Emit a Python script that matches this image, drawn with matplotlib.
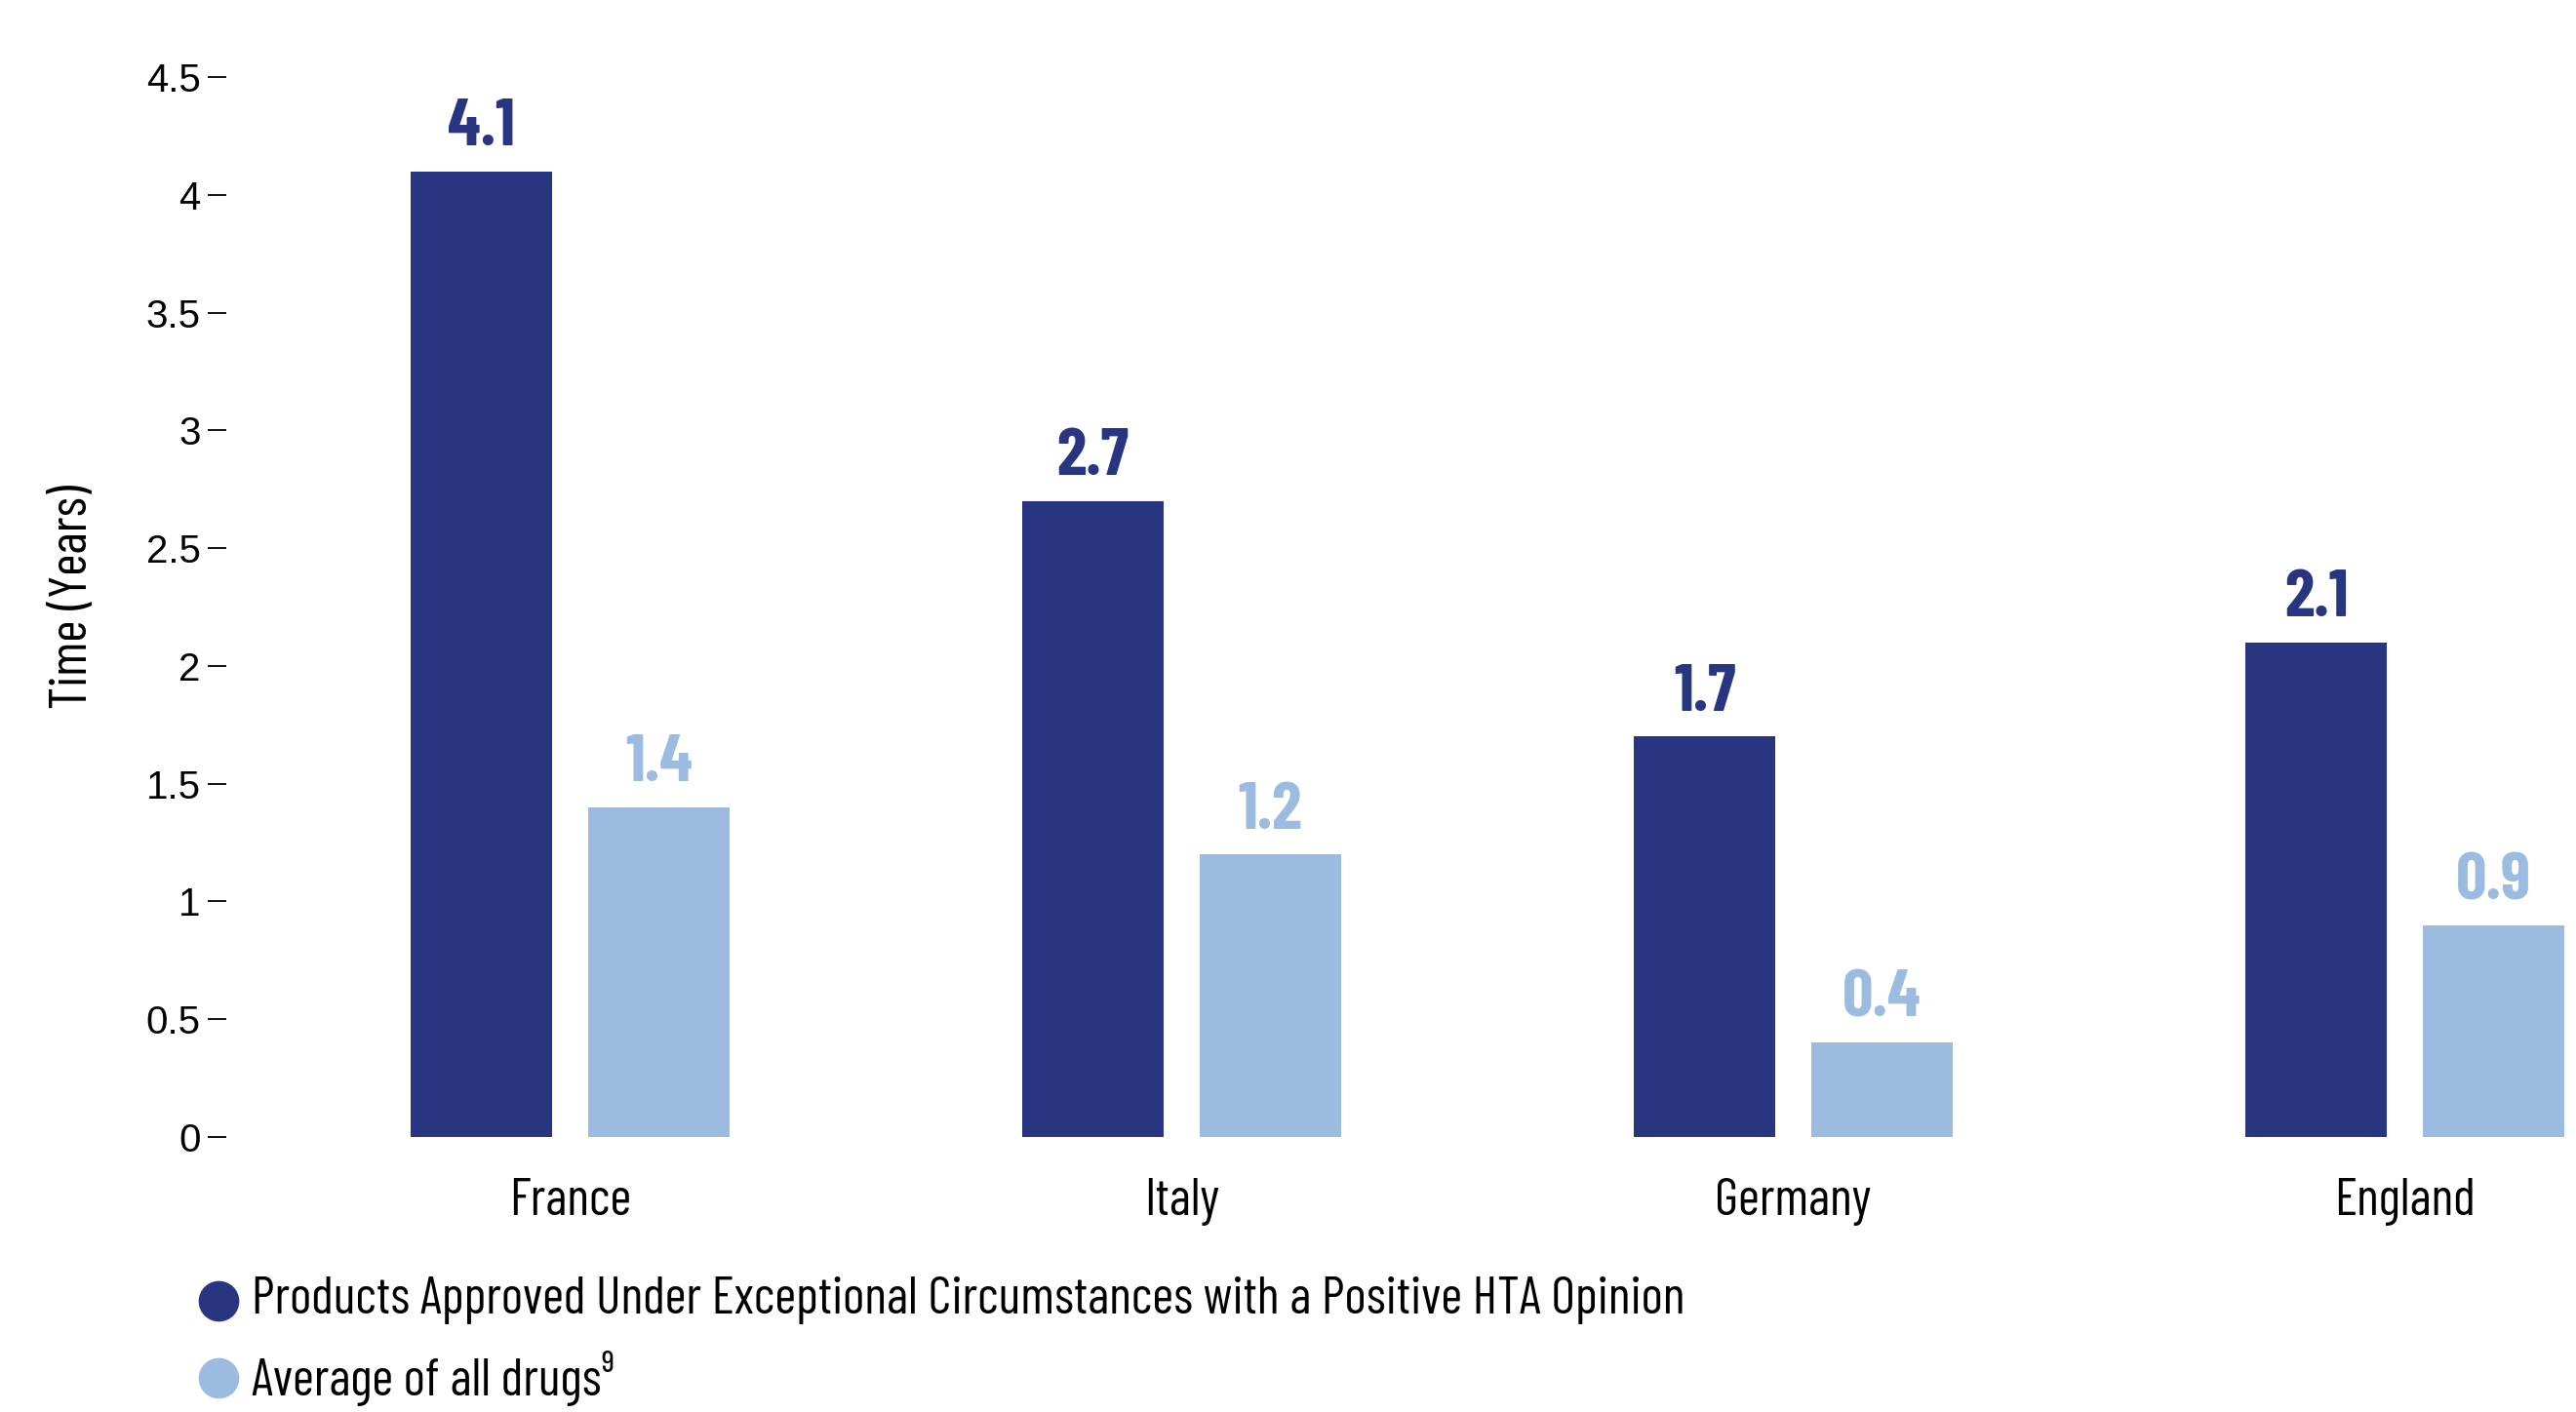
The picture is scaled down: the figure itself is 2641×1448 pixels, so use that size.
import matplotlib.pyplot as plt
from matplotlib.lines import Line2D
import numpy as np

# data
countries = ["France", "Italy", "Germany", "England"]
exceptional = [4.1, 2.7, 1.7, 2.1]
all_drugs = [1.4, 1.2, 0.4, 0.9]
series_names = ["Products Approved Under Exceptional Circumstances with a Positive HTA Opinion",
                "Average of all drugs\u2079"]
yticks = [0, 0.5, 1, 1.5, 2, 2.5, 3, 3.5, 4, 4.5]
ytick_labels = ["0", "0.5", "1", "1.5", "2", "2.5", "3", "3.5", "4", "4.5"]

dark = "#283580"
light = "#9bbbe1"
cond = ["Barlow Condensed", "DejaVu Sans"]

fig = plt.figure(figsize=(26.41, 14.48), dpi=100)
ax = fig.add_axes([232 / 2641, 1 - 1166 / 1448, 1 - 232 / 2641, (1166 - 79) / 1448])

x = np.arange(len(countries))
w = 0.231
off = 0.145
b1 = ax.bar(x - off, exceptional, w, color=dark)
b2 = ax.bar(x + off, all_drugs, w, color=light)

# value labels above bars
for bars, vals, c in [(b1, exceptional, dark), (b2, all_drugs, light)]:
    for r, v in zip(bars, vals):
        ax.annotate(f"{v}", (r.get_x() + r.get_width() / 2, v), xytext=(0, 19),
                    textcoords="offset points", ha="center", va="baseline",
                    fontsize=50, fontweight="bold", color=c, family=cond,
                    annotation_clip=False)

ax.set_xlim(-0.562, 3.28)
ax.set_ylim(0, 4.5)
ax.set_yticks(yticks)
ax.set_yticklabels(ytick_labels, family="Liberation Sans", fontsize=29)
ax.set_xticks(x)
ax.set_xticklabels(countries, family=cond, fontsize=38.5)
ax.tick_params(axis="y", length=14, width=1.3, pad=5, direction="out")
ax.tick_params(axis="x", length=0, pad=30)
for s in ax.spines.values():
    s.set_visible(False)

ax.set_ylabel("Time (Years)", family=cond, fontsize=39)
ax.yaxis.set_label_coords(-0.0548, 0.51)

# legend drawn by hand at the bottom, as in the original
leg_y = [1334, 1413]
for yy, name, c in zip(leg_y, series_names, [dark, light]):
    fy = 1 - yy / 1448
    fig.add_artist(Line2D([224 / 2641], [fy], marker="o", markersize=29, color=c,
                          linestyle="none", transform=fig.transFigure))
    fig.text(258 / 2641, fy, name, family=cond, fontsize=38.5, va="center", ha="left")

fig.savefig("out.png", dpi=100)
